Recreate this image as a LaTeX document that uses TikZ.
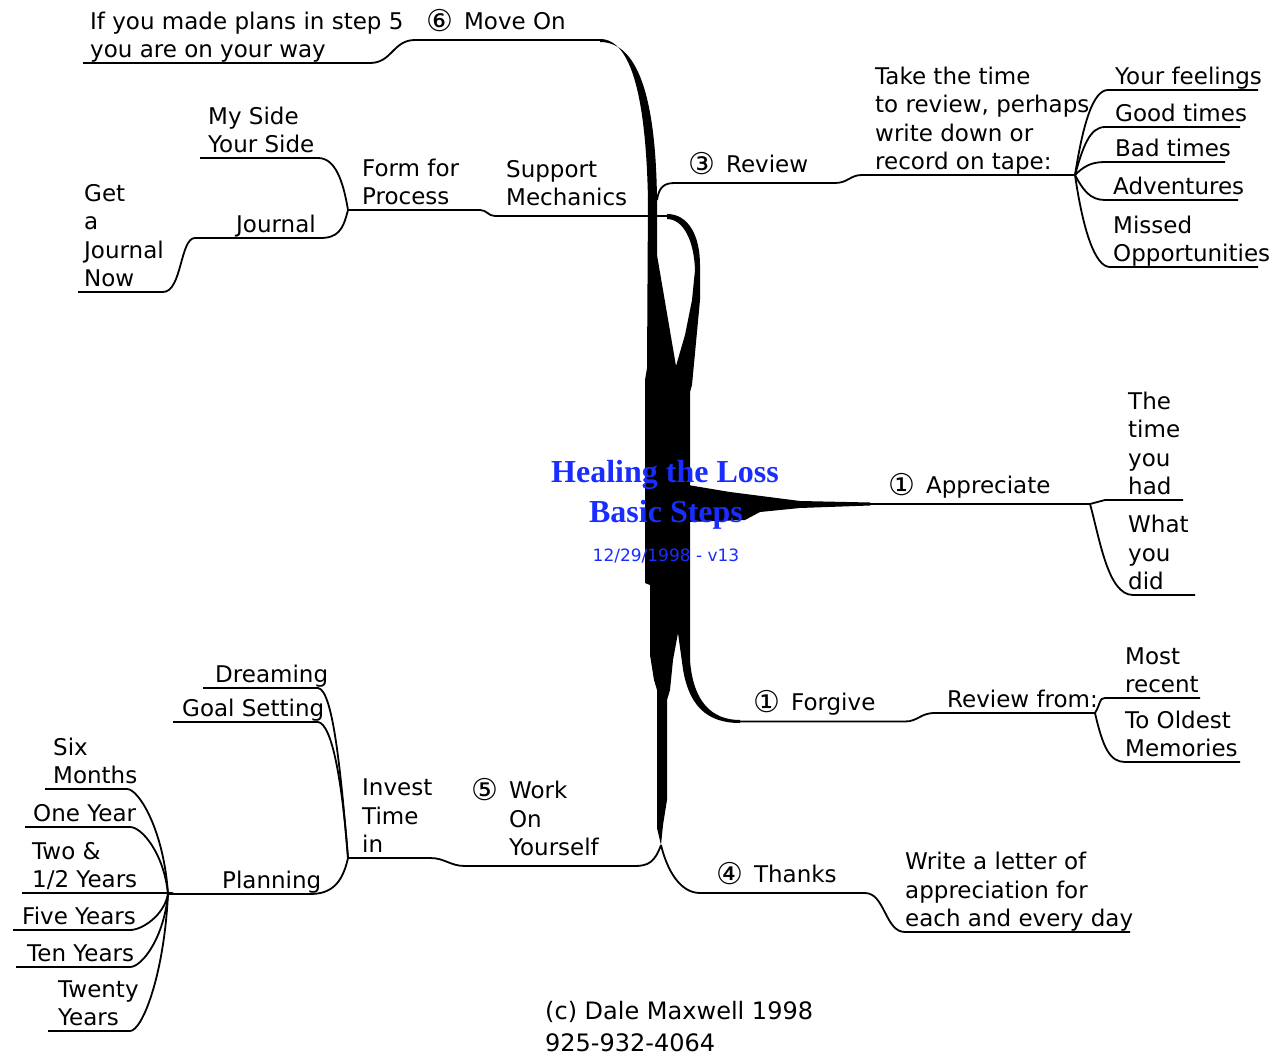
\documentclass[tikz,border=0pt]{standalone}
\usepackage{fontspec}
\setmainfont{DejaVu Sans}
\newfontfamily\titlefont{Liberation Serif}
\usetikzlibrary{positioning}
\definecolor{titleblue}{RGB}{25,45,255}
\newcommand{\stepno}[1]{\raisebox{-2pt}{\fontsize{30}{28.5}\selectfont #1}\hspace{11pt}}

\begin{document}
\begin{tikzpicture}[x=1pt,y=-1pt,
  branch/.style={line width=1.8pt},
  txt/.style={anchor=south west, inner sep=0pt, align=left,
    font=\fontsize{23}{28.5}\selectfont, execute at end node=\strut},
  topic/.style={txt, yshift=1.5pt},
  leaf/.style={txt, yshift=-3.5pt}]
  %Page and background
  \useasboundingbox (0,0) rectangle (1270,1057);
  \fill[white] (0,0) rectangle (1270,1057);

  %Hubs where the small branches fan out
  \coordinate (hubR) at (1075,175);
  \coordinate (hubF) at (348,210);
  \coordinate (hubA) at (1090,504);
  \coordinate (hubG) at (1095,713);
  \coordinate (hubI) at (348,858);
  \coordinate (hubP) at (168,894);
  \coordinate (root) at (661,845);

  %Draw thick trunk
  \fill (600,39) .. controls (632,39) and (646,100) .. (648,200)
    -- (657,200) .. controls (656,110) and (642,42) .. (600,42) -- cycle;
  \fill (648,198) -- (657,198) -- (657,255) -- (676,366) -- (685,335)
    -- (692,300) -- (695,270) .. controls (694,240) and (683,219) .. (667,219)
    -- (667,214) .. controls (688,214) and (700,235) .. (700,265)
    -- (700,300) -- (692,385) -- (690,392) -- (690,660)
    .. controls (693,702) and (712,720) .. (740,720) -- (740,723)
    .. controls (706,723) and (687,705) .. (682,662) -- (678,633)
    -- (673,660) -- (670,690) -- (667,700) -- (667,800) -- (663,825)
    -- (root) -- (657,828) -- (657,690) -- (654,680) -- (650,655)
    -- (650,585) -- (645,583) -- (645,380) -- (647,368) -- cycle;
  \fill (688,485) -- (730,492) -- (800,501) -- (870,502.5) -- (870,505.5)
    -- (800,508) -- (760,512) -- (745,520) -- (688,522) -- cycle;

  %Draw title
  \node[anchor=base, text=titleblue, font=\titlefont\bfseries\fontsize{32}{36}\selectfont] (title) at (665,482) {Healing the Loss};
  \node[anchor=base, text=titleblue, font=\titlefont\bfseries\fontsize{32}{36}\selectfont] (subtitle) at (666,522) {Basic Steps};
  \node[anchor=base, text=titleblue, font=\fontsize{17}{20}\selectfont] (version) at (666,561) {12/29/1998 - v13};

  %Draw Move On branch
  \draw[branch] (83,63) -- (370,63) .. controls (392,63) and (393,40) .. (415,40) -- (600,40);
  \node[topic] (moveon) at (426,40) {\stepno{⑥}Move On};
  \node[leaf] (plans) at (90,63) {If you made plans in step 5\\you are on your way};

  %Draw Review branch
  \draw[branch] (657,200) .. controls (659,187) and (664,183) .. (675,183) -- (835,183)
    .. controls (848,183) and (850,175) .. (862,175) -- (hubR);
  \foreach \ya/\xa/\xb in {90/1108/1258, 127/1105/1240, 162/1105/1225, 200/1105/1238, 267/1110/1258}
    \draw[branch] (hubR) .. controls +(8,{0.6*(\ya-175)}) and +(-15,0) .. (\xa,\ya) -- (\xb,\ya);
  \node[topic] (review) at (688,183) {\stepno{③}Review};
  \node[leaf] (taketime) at (875,175) {Take the time\\to review, perhaps\\write down or\\record on tape:};
  \node[leaf] (feelings) at (1115,90) {Your feelings};
  \node[leaf] (goodtimes) at (1115,127) {Good times};
  \node[leaf] (badtimes) at (1115,162) {Bad times};
  \node[leaf] (adventures) at (1113,200) {Adventures};
  \node[leaf] (missed) at (1113,267) {Missed\\Opportunities};

  %Draw Support Mechanics branch
  \draw[branch] (667,216) -- (495,216) .. controls (488,216) and (487,210) .. (480,210) -- (hubF);
  \draw[branch] (hubF) .. controls (343,180) and (335,158) .. (318,158) -- (200,158);
  \draw[branch] (hubF) .. controls (343,230) and (338,238) .. (320,238) -- (195,238)
    .. controls (180,238) and (182,292) .. (163,292) -- (78,292);
  \node[topic] (support) at (506,216) {Support\\Mechanics};
  \node[leaf] (formfor) at (362,210) {Form for\\Process};
  \node[leaf] (myside) at (208,158) {My Side\\Your Side};
  \node[leaf] (journal) at (236,238) {Journal};
  \node[leaf] (getjournal) at (84,292) {Get\\a\\Journal\\Now};

  %Draw Appreciate branch
  \draw[branch] (860,504) -- (hubA) -- (1105,500) -- (1183,500);
  \draw[branch] (hubA) .. controls (1100,540) and (1108,595) .. (1133,595) -- (1195,595);
  \node[topic] (appreciate) at (888,504) {\stepno{①}Appreciate};
  \node[leaf] (timehad) at (1128,500) {The\\time\\you\\had};
  \node[leaf] (whatdid) at (1128,595) {What\\you\\did};

  %Draw Forgive branch
  \draw[branch] (740,721.5) -- (905,721.5) .. controls (918,721.5) and (920,713) .. (935,713) -- (hubG);
  \draw[branch] (hubG) .. controls +(6,-10) and +(-6,0) .. (1105,698) -- (1200,698);
  \draw[branch] (hubG) .. controls +(8,35) and +(-15,0) .. (1125,762) -- (1240,762);
  \node[topic] (forgive) at (753,721) {\stepno{①}Forgive};
  \node[leaf] (reviewfrom) at (947,713) {Review from:};
  \node[leaf] (mostrecent) at (1125,698) {Most\\recent};
  \node[leaf] (oldest) at (1125,762) {To Oldest\\Memories};

  %Draw Thanks branch
  \draw[branch] (root) .. controls (667,870) and (680,893) .. (700,893) -- (865,893)
    .. controls (885,893) and (885,932) .. (905,932) -- (1130,932);
  \node[topic] (thanks) at (716,893) {\stepno{④}Thanks};
  \node[leaf] (letter) at (905,932) {Write a letter of\\appreciation for\\each and every day};

  %Draw Work On Yourself branch
  \draw[branch] (root) .. controls (655,862) and (648,866) .. (635,866) -- (465,866)
    .. controls (450,866) and (445,858) .. (430,858) -- (hubI);
  \draw[branch] (hubI) .. controls (340,760) and (332,690) .. (318,688) -- (203,688);
  \draw[branch] (hubI) .. controls (342,780) and (332,724) .. (318,722) -- (173,722);
  \draw[branch] (hubI) .. controls (342,885) and (330,894) .. (310,894) -- (hubP);
  \foreach \ya/\xa/\xb in {789/127/45, 827/130/25, 893/165/22, 930/130/13, 967/130/16, 1031/130/48}
    \draw[branch] (hubP) .. controls +(-4,{0.6*(\ya-894)}) and +(12,0) .. (\xa,\ya) -- (\xb,\ya);
  \node[topic] (work) at (471,866) {\stepno{⑤}Work\\\phantom{\stepno{⑤}}On\\\phantom{\stepno{⑤}}Yourself};
  \node[leaf] (invest) at (362,858) {Invest\\Time\\in};
  \node[leaf] (dreaming) at (215,688) {Dreaming};
  \node[leaf] (goalset) at (182,722) {Goal Setting};
  \node[leaf] (planning) at (222,894) {Planning};
  \node[leaf] (sixmonths) at (53,789) {Six\\Months};
  \node[leaf] (oneyear) at (33,827) {One Year};
  \node[leaf] (twohalf) at (32,893) {Two \&\\1/2 Years};
  \node[leaf] (fiveyears) at (22,930) {Five Years};
  \node[leaf] (tenyears) at (27,967) {Ten Years};
  \node[leaf] (twenty) at (58,1031) {Twenty\\Years};

  %Draw credit line
  \node[anchor=base west, inner sep=0pt, font=\fontsize{24}{28}\selectfont] (credit) at (545,1019) {(c) Dale Maxwell 1998};
  \node[anchor=base west, inner sep=0pt, font=\fontsize{24}{28}\selectfont] (phone) at (545,1051) {925-932-4064};
\end{tikzpicture}
\end{document}
